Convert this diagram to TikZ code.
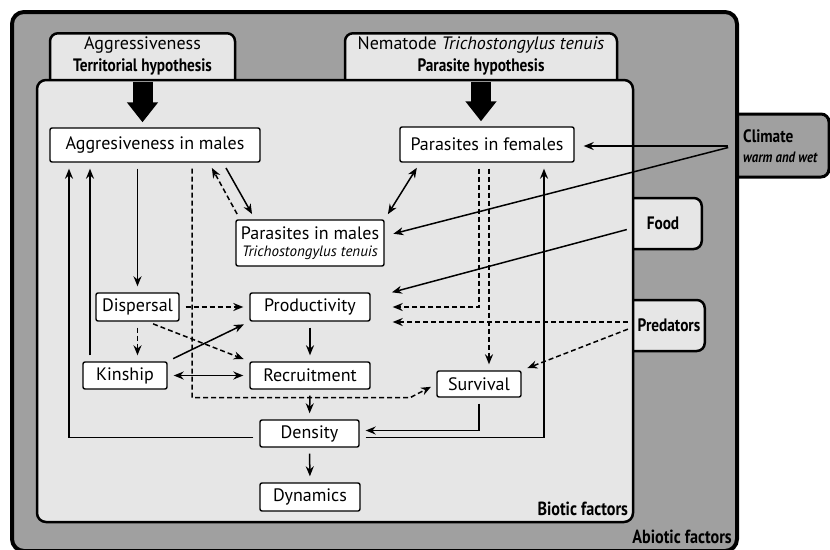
\documentclass[tikz,border=0pt]{standalone}
\usepackage{fontspec}
\setmainfont{PT Sans}
\newfontfamily\narrowfont[FakeStretch=0.85]{PT Sans}
\usetikzlibrary{arrows.meta}
\definecolor{abioticgray}{HTML}{A0A0A0}
\definecolor{bioticgray}{HTML}{E6E6E6}

\begin{document}
\begin{tikzpicture}[x = 1pt, y = -1pt, font = \fontsize{18}{20}\selectfont, >={Stealth[length = 10pt, width = 8pt]}]
	\tikzstyle{abioticStyle} = [draw, fill = abioticgray, line width = 4pt, rounded corners = 12pt, inner sep = 0pt]
	\tikzstyle{bioticStyle} = [draw, fill = bioticgray, line width = 2.5pt, rounded corners = 9pt, inner sep = 0pt]
	\tikzstyle{climateTab} = [draw, fill = abioticgray, line width = 3pt, rounded corners = 8pt, inner sep = 0pt]
	\tikzstyle{factorTab} = [draw, fill = bioticgray, line width = 2.5pt, rounded corners = 8pt, inner sep = 0pt]
	\tikzstyle{boxStyle} = [draw, fill = white, line width = 1.4pt, rounded corners = 2pt, inner sep = 0pt, align = center]
	\tikzstyle{factorLabel} = [font = \fontsize{18}{20}\selectfont\narrowfont\bfseries, align = left, inner sep = 0pt]
	\tikzstyle{solidEdge} = [line width = 1.5pt, ->, shorten <=6pt, shorten >=6pt]
	\tikzstyle{dashedEdge} = [solidEdge, dash pattern = on 5pt off 3pt]
	\tikzstyle{bothEdge} = [solidEdge, <->]
	\tikzstyle{bigArrow} = [line width = 20pt, -{Triangle[length = 20pt, width = 30pt]}, shorten <=3pt, shorten >=5pt]
	\useasboundingbox (0, 0) rectangle (830, 549);
	\node[climateTab, minimum width = 110pt, minimum height = 63pt] (climatetab) at (774, 145.5) {};
	\node[abioticStyle, minimum width = 725pt, minimum height = 539pt] (abiotic) at (374.5, 281.5) {};
	\node[factorTab, minimum width = 185pt, minimum height = 70pt, anchor = north] (aggrtabbox) at (142.5, 32) {};
	\node[factorTab, minimum width = 272pt, minimum height = 70pt, anchor = north] (nematabbox) at (481, 32) {};
	\node[factorTab, minimum width = 90pt, minimum height = 51pt, anchor = east] (foodtab) at (703, 223.5) {};
	\node[factorTab, minimum width = 93pt, minimum height = 51pt, anchor = east] (predtab) at (706, 325.5) {};
	\node[bioticStyle, minimum width = 596pt, minimum height = 442pt] (biotic) at (335, 301) {};
	\node[align = center, inner sep = 0pt] (aggrtab) at (142.5, 56) {Aggressiveness\\[2pt]{\narrowfont\bfseries Territorial hypothesis}};
	\node[align = center, inner sep = 0pt] (nematab) at (481, 56) {Nematode \textit{Trichostongylus tenuis}\\[2pt]{\narrowfont\bfseries Parasite hypothesis}};
	\node[factorLabel, anchor = west] (climate) at (743, 146) {Climate\\{\fontsize{15}{17}\selectfont\itshape warm and wet}};
	\node[factorLabel] (food) at (663, 223) {Food};
	\node[factorLabel] (predators) at (669, 325) {Predators};
	\node[font = \fontsize{19}{21}\selectfont\narrowfont\bfseries, anchor = south east, inner sep = 0pt] (bioticlabel) at ([xshift = -6pt, yshift = 7pt]biotic.south east) {Biotic factors};
	\node[font = \fontsize{19}{21}\selectfont\narrowfont\bfseries, anchor = south east, inner sep = 0pt] (abioticlabel) at ([xshift = -7pt, yshift = 9pt]abiotic.south east) {Abiotic factors};
	\node[boxStyle, minimum width = 210pt, minimum height = 34pt] (aggmales) at (155, 145) {Aggresiveness in males};
	\node[boxStyle, minimum width = 174pt, minimum height = 35pt] (parfemales) at (487, 144.5) {Parasites in females};
	\node[boxStyle, minimum width = 148pt, minimum height = 46pt] (parmales) at (310, 243) {Parasites in males\\[-3pt]{\fontsize{15}{17}\selectfont\itshape Trichostongylus tenuis}};
	\node[boxStyle, minimum width = 83pt, minimum height = 28pt] (dispersal) at (137.5, 307) {Dispersal};
	\node[boxStyle, minimum width = 120pt, minimum height = 28pt] (productivity) at (310, 307) {Productivity};
	\node[boxStyle, minimum width = 84pt, minimum height = 27pt] (kinship) at (125, 375.5) {Kinship};
	\node[boxStyle, minimum width = 120pt, minimum height = 27pt] (recruitment) at (310, 375.5) {Recruitment};
	\node[boxStyle, minimum width = 84pt, minimum height = 26pt] (survival) at (479, 384) {Survival};
	\node[boxStyle, minimum width = 99pt, minimum height = 27pt] (density) at (309.5, 433.5) {Density};
	\node[boxStyle, minimum width = 100pt, minimum height = 28pt] (dynamics) at (310, 497) {Dynamics};
	\coordinate (climateout) at ([xshift = -9pt]climate.west);
	\coordinate (foodout) at ([xshift = -14pt, yshift = -5pt]food.west);
	\coordinate (predout) at ([xshift = -4pt, yshift = 3pt]predators.west);
	\coordinate (predout2) at ([xshift = -4pt, yshift = -2pt]predators.west);
	\draw[bigArrow] (aggrtab |- biotic.north) -- (aggrtab |- aggmales.north);
	\draw[bigArrow] (nematab |- biotic.north) -- (nematab |- parfemales.north);
	\draw[solidEdge] (dispersal.north |- aggmales.south) -- (dispersal.north);
	\draw[solidEdge] ([xshift = -35pt]kinship.north) -- ([xshift = -35pt]kinship.north |- aggmales.south);
	\draw[solidEdge] ([yshift = -4pt]density.west) -| ([xshift = -86pt]aggmales.south);
	\draw[dashedEdge] ([xshift = 37pt]aggmales.south) |- ([xshift = 100pt, yshift = -8pt]recruitment.south) -- (survival.west);
	\draw[solidEdge] ([xshift = 68pt]aggmales.south) -- ([xshift = -55pt]parmales.north);
	\draw[dashedEdge] ([xshift = -70pt]parmales.north) -- ([xshift = 54pt]aggmales.south);
	\draw[bothEdge] ([xshift = -67pt]parfemales.south) -- (parmales.north east);
	\draw[solidEdge, shorten >=9pt] (climateout) -- (climateout -| parfemales.east);
	\draw[solidEdge, shorten >=9pt] (climateout) -- ([yshift = 7pt]parmales.east);
	\draw[solidEdge, shorten >=22pt] (foodout) -- ([yshift = 9pt]productivity.east);
	\draw[dashedEdge, shorten >=22pt] ([xshift = -8pt]parfemales.south) |- (productivity.east);
	\draw[dashedEdge, shorten >=22pt] (predout) -- (predout -| productivity.east);
	\draw[dashedEdge] ([xshift = 2pt]parfemales.south) -- ([xshift = 2pt]parfemales.south |- survival.north);
	\draw[dashedEdge] (predout2) -- (survival.north east);
	\draw[solidEdge] ([yshift = -4pt]density.east) -| ([xshift = 57pt]parfemales.south);
	\draw[solidEdge] (survival.south) |- ([yshift = 3pt]density.east);
	\draw[dashedEdge] (dispersal.east) -- (productivity.west);
	\draw[dashedEdge] (dispersal.south) -- (dispersal.south |- kinship.north);
	\draw[dashedEdge] ([xshift = 10pt]dispersal.south) -- (recruitment.north west);
	\draw[solidEdge] (kinship.north east) -- (productivity.south west);
	\draw[bothEdge] (kinship.east) -- (recruitment.west);
	\draw[solidEdge] (productivity.south) -- (recruitment.north);
	\draw[solidEdge] (recruitment.south) -- (density.north);
	\draw[solidEdge] (density.south) -- (dynamics.north);
\end{tikzpicture}
\end{document}
